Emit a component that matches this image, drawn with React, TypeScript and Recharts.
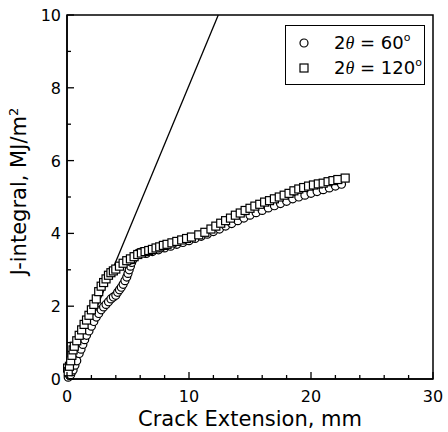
import { ScatterChart, Scatter, XAxis, YAxis, ReferenceLine, ReferenceArea, Legend } from 'recharts';

// 2θ = 120° (squares)
const sqX = [0.05, 0.1, 0.2, 0.3, 0.4, 0.5, 0.6, 0.8, 1.0, 1.2, 1.4, 1.6, 1.8, 2.0, 2.2, 2.4, 2.6, 2.8, 3.0, 3.2, 3.4, 3.6, 3.8, 4.0, 4.3, 4.6, 4.9, 5.2, 5.5, 5.8, 6.1, 6.4, 6.7, 7.0, 7.3, 7.6, 7.9, 8.2, 8.6, 9.0, 9.4, 9.8, 10.2, 10.8, 11.3, 11.8, 12.2, 12.6, 13.0, 13.4, 13.8, 14.2, 14.6, 15.0, 15.4, 15.8, 16.2, 16.6, 17.0, 17.4, 17.8, 18.2, 18.6, 19.0, 19.4, 19.8, 20.2, 20.6, 21.0, 21.4, 21.8, 22.2, 22.8];
const sqY = [0.3, 0.2, 0.35, 0.5, 0.65, 0.8, 0.9, 1.05, 1.2, 1.35, 1.5, 1.62, 1.75, 1.9, 2.05, 2.2, 2.4, 2.55, 2.65, 2.75, 2.85, 2.92, 2.97, 3.02, 3.1, 3.18, 3.25, 3.3, 3.36, 3.42, 3.46, 3.5, 3.53, 3.56, 3.6, 3.63, 3.67, 3.7, 3.74, 3.78, 3.82, 3.86, 3.9, 3.96, 4.03, 4.12, 4.2, 4.28, 4.35, 4.42, 4.5, 4.56, 4.63, 4.69, 4.75, 4.8, 4.86, 4.9, 4.95, 5.0, 5.05, 5.1, 5.17, 5.22, 5.26, 5.3, 5.33, 5.36, 5.38, 5.42, 5.45, 5.48, 5.52];

// 2θ = 60° (circles)
const ciX = [0.1, 0.2, 0.3, 0.4, 0.5, 0.65, 0.8, 1.0, 1.15, 1.3, 1.45, 1.6, 1.8, 2.0, 2.2, 2.4, 2.6, 2.8, 3.0, 3.2, 3.4, 3.6, 3.8, 4.0, 4.15, 4.3, 4.45, 4.6, 4.75, 4.9, 5.0, 5.1, 5.2, 5.3, 5.4, 5.5, 5.65, 5.8, 6.0, 6.2, 6.5, 7.0, 7.5, 8.0, 8.5, 9.0, 9.5, 10.0, 10.5, 11.0, 11.5, 12.0, 12.5, 13.0, 13.5, 14.0, 14.5, 15.0, 15.5, 16.0, 16.5, 17.0, 17.5, 18.0, 18.5, 19.0, 19.5, 20.0, 20.5, 21.0, 21.5, 22.0, 22.5];
const ciY = [0.05, 0.1, 0.12, 0.2, 0.25, 0.38, 0.5, 0.7, 0.82, 0.95, 1.08, 1.2, 1.32, 1.45, 1.58, 1.7, 1.8, 1.9, 1.98, 2.05, 2.12, 2.2, 2.25, 2.3, 2.38, 2.45, 2.52, 2.6, 2.7, 2.8, 2.9, 3.0, 3.1, 3.2, 3.28, 3.35, 3.4, 3.45, 3.48, 3.5, 3.45, 3.5, 3.55, 3.6, 3.65, 3.7, 3.75, 3.8, 3.86, 3.92, 3.98, 4.05, 4.12, 4.2, 4.27, 4.35, 4.42, 4.5, 4.57, 4.63, 4.7, 4.76, 4.82, 4.88, 4.95, 5.0, 5.05, 5.1, 5.15, 5.2, 5.25, 5.3, 5.35];

// blunting line end points
const bluntX = [0, 12.4];
const bluntY = [0, 10];

const xTicks = [0, 2, 4, 6, 8, 10, 12, 14, 16, 18, 20, 22, 24, 26, 28, 30];
const yTicks = [0, 1, 2, 3, 4, 5, 6, 7, 8, 9, 10];

const squares = sqX.map((x, i) => ({ x, y: sqY[i] }));
const circles = ciX.map((x, i) => ({ x, y: ciY[i] }));

const FONT = '"DejaVu Sans", Verdana, sans-serif';

const SquareShape = (props: any) => {
  const { cx, cy } = props;
  if (cx == null || cy == null) return null;
  return <rect x={cx - 4} y={cy - 4} width={8} height={8} fill="#fff" stroke="#000" strokeWidth={1.2} />;
};

const CircleShape = (props: any) => {
  const { cx, cy } = props;
  if (cx == null || cy == null) return null;
  return <circle cx={cx} cy={cy} r={4} fill="#fff" stroke="#000" strokeWidth={1.2} />;
};

const XTick = (props: any) => {
  const { x, y, payload } = props;
  const major = payload.value % 10 === 0;
  return (
    <g>
      <line x1={x} y1={y} x2={x} y2={y - (major ? 7 : 4)} stroke="#000" strokeWidth={1.3} />
      {major && (
        <text x={x} y={y + 23} textAnchor="middle" fontSize={16} fontFamily={FONT} fill="#000">
          {payload.value}
        </text>
      )}
    </g>
  );
};

const YTick = (props: any) => {
  const { x, y, payload } = props;
  const major = payload.value % 2 === 0;
  return (
    <g>
      <line x1={x} y1={y} x2={x + (major ? 7 : 4)} y2={y} stroke="#000" strokeWidth={1.3} />
      {major && (
        <text x={x - 6} y={y + 6} textAnchor="end" fontSize={16} fontFamily={FONT} fill="#000">
          {payload.value}
        </text>
      )}
    </g>
  );
};

const legendRows = [
  { label: '60', shape: 'circle' },
  { label: '120', shape: 'square' },
];

const LegendBox = () => (
  <div
    style={{
      width: 140,
      height: 60,
      border: '1.3px solid #000',
      background: '#fff',
      fontFamily: FONT,
      fontSize: 18,
      boxSizing: 'border-box',
      whiteSpace: 'nowrap',
      paddingTop: 4,
    }}
  >
    {legendRows.map((row) => (
      <div key={row.label} style={{ display: 'flex', alignItems: 'center', height: 25 }}>
        <svg width={30} height={20} style={{ flex: 'none' }}>
          {row.shape === 'circle' ? (
            <circle cx={18} cy={10} r={4} fill="#fff" stroke="#000" strokeWidth={1.2} />
          ) : (
            <rect x={14} y={6} width={8} height={8} fill="#fff" stroke="#000" strokeWidth={1.2} />
          )}
        </svg>
        <span style={{ marginLeft: 18 }}>
          2<span style={{ fontFamily: '"Liberation Serif", serif', fontStyle: 'italic' }}>θ</span> = {row.label}
          <sup style={{ fontSize: 11, verticalAlign: 8 }}>o</sup>
        </span>
      </div>
    ))}
  </div>
);

export default function App() {
  return (
    <div style={{ position: 'relative', width: 448, height: 432, background: '#fff' }}>
      <style>{'body{margin:0}'}</style>
      <ScatterChart width={448} height={432} margin={{ top: 15, right: 15, bottom: 0, left: 0 }}>
        <XAxis
          type="number"
          dataKey="x"
          domain={[0, 30]}
          ticks={xTicks}
          interval={0}
          tickSize={0}
          tickMargin={0}
          tick={<XTick />}
          height={53}
          stroke="#000"
          strokeWidth={1.5}
          label={{ value: 'Crack Extension, mm', position: 'insideBottom', offset: 6, fontSize: 21, fontFamily: FONT, fill: '#000' }}
        />
        <YAxis
          type="number"
          dataKey="y"
          domain={[0, 10]}
          ticks={yTicks}
          interval={0}
          tickSize={0}
          tickMargin={0}
          tick={<YTick />}
          width={67}
          stroke="#000"
          strokeWidth={1.5}
          label={
            <text x={27} y={198} transform="rotate(-90 27 198)" textAnchor="middle" fontSize={21} fontFamily={FONT} fill="#000">
              J-integral, MJ/m<tspan dy={-8} fontSize={13}>2</tspan>
            </text>
          }
        />
        <ReferenceArea x1={0} x2={30} y1={0} y2={10} fill="none" stroke="#000" strokeWidth={1.5} />
        <ReferenceLine
          segment={[
            { x: bluntX[0], y: bluntY[0] },
            { x: bluntX[1], y: bluntY[1] },
          ]}
          stroke="#000"
          strokeWidth={1.3}
        />
        <Scatter name="2θ = 60°" data={circles} shape={<CircleShape />} isAnimationActive={false} />
        <Scatter name="2θ = 120°" data={squares} shape={<SquareShape />} isAnimationActive={false} />
        <Legend
          layout="vertical"
          align="center"
          verticalAlign="middle"
          content={<LegendBox />}
          wrapperStyle={{ left: 285, top: 25, width: 140, height: 60 }}
        />
      </ScatterChart>
    </div>
  );
}
